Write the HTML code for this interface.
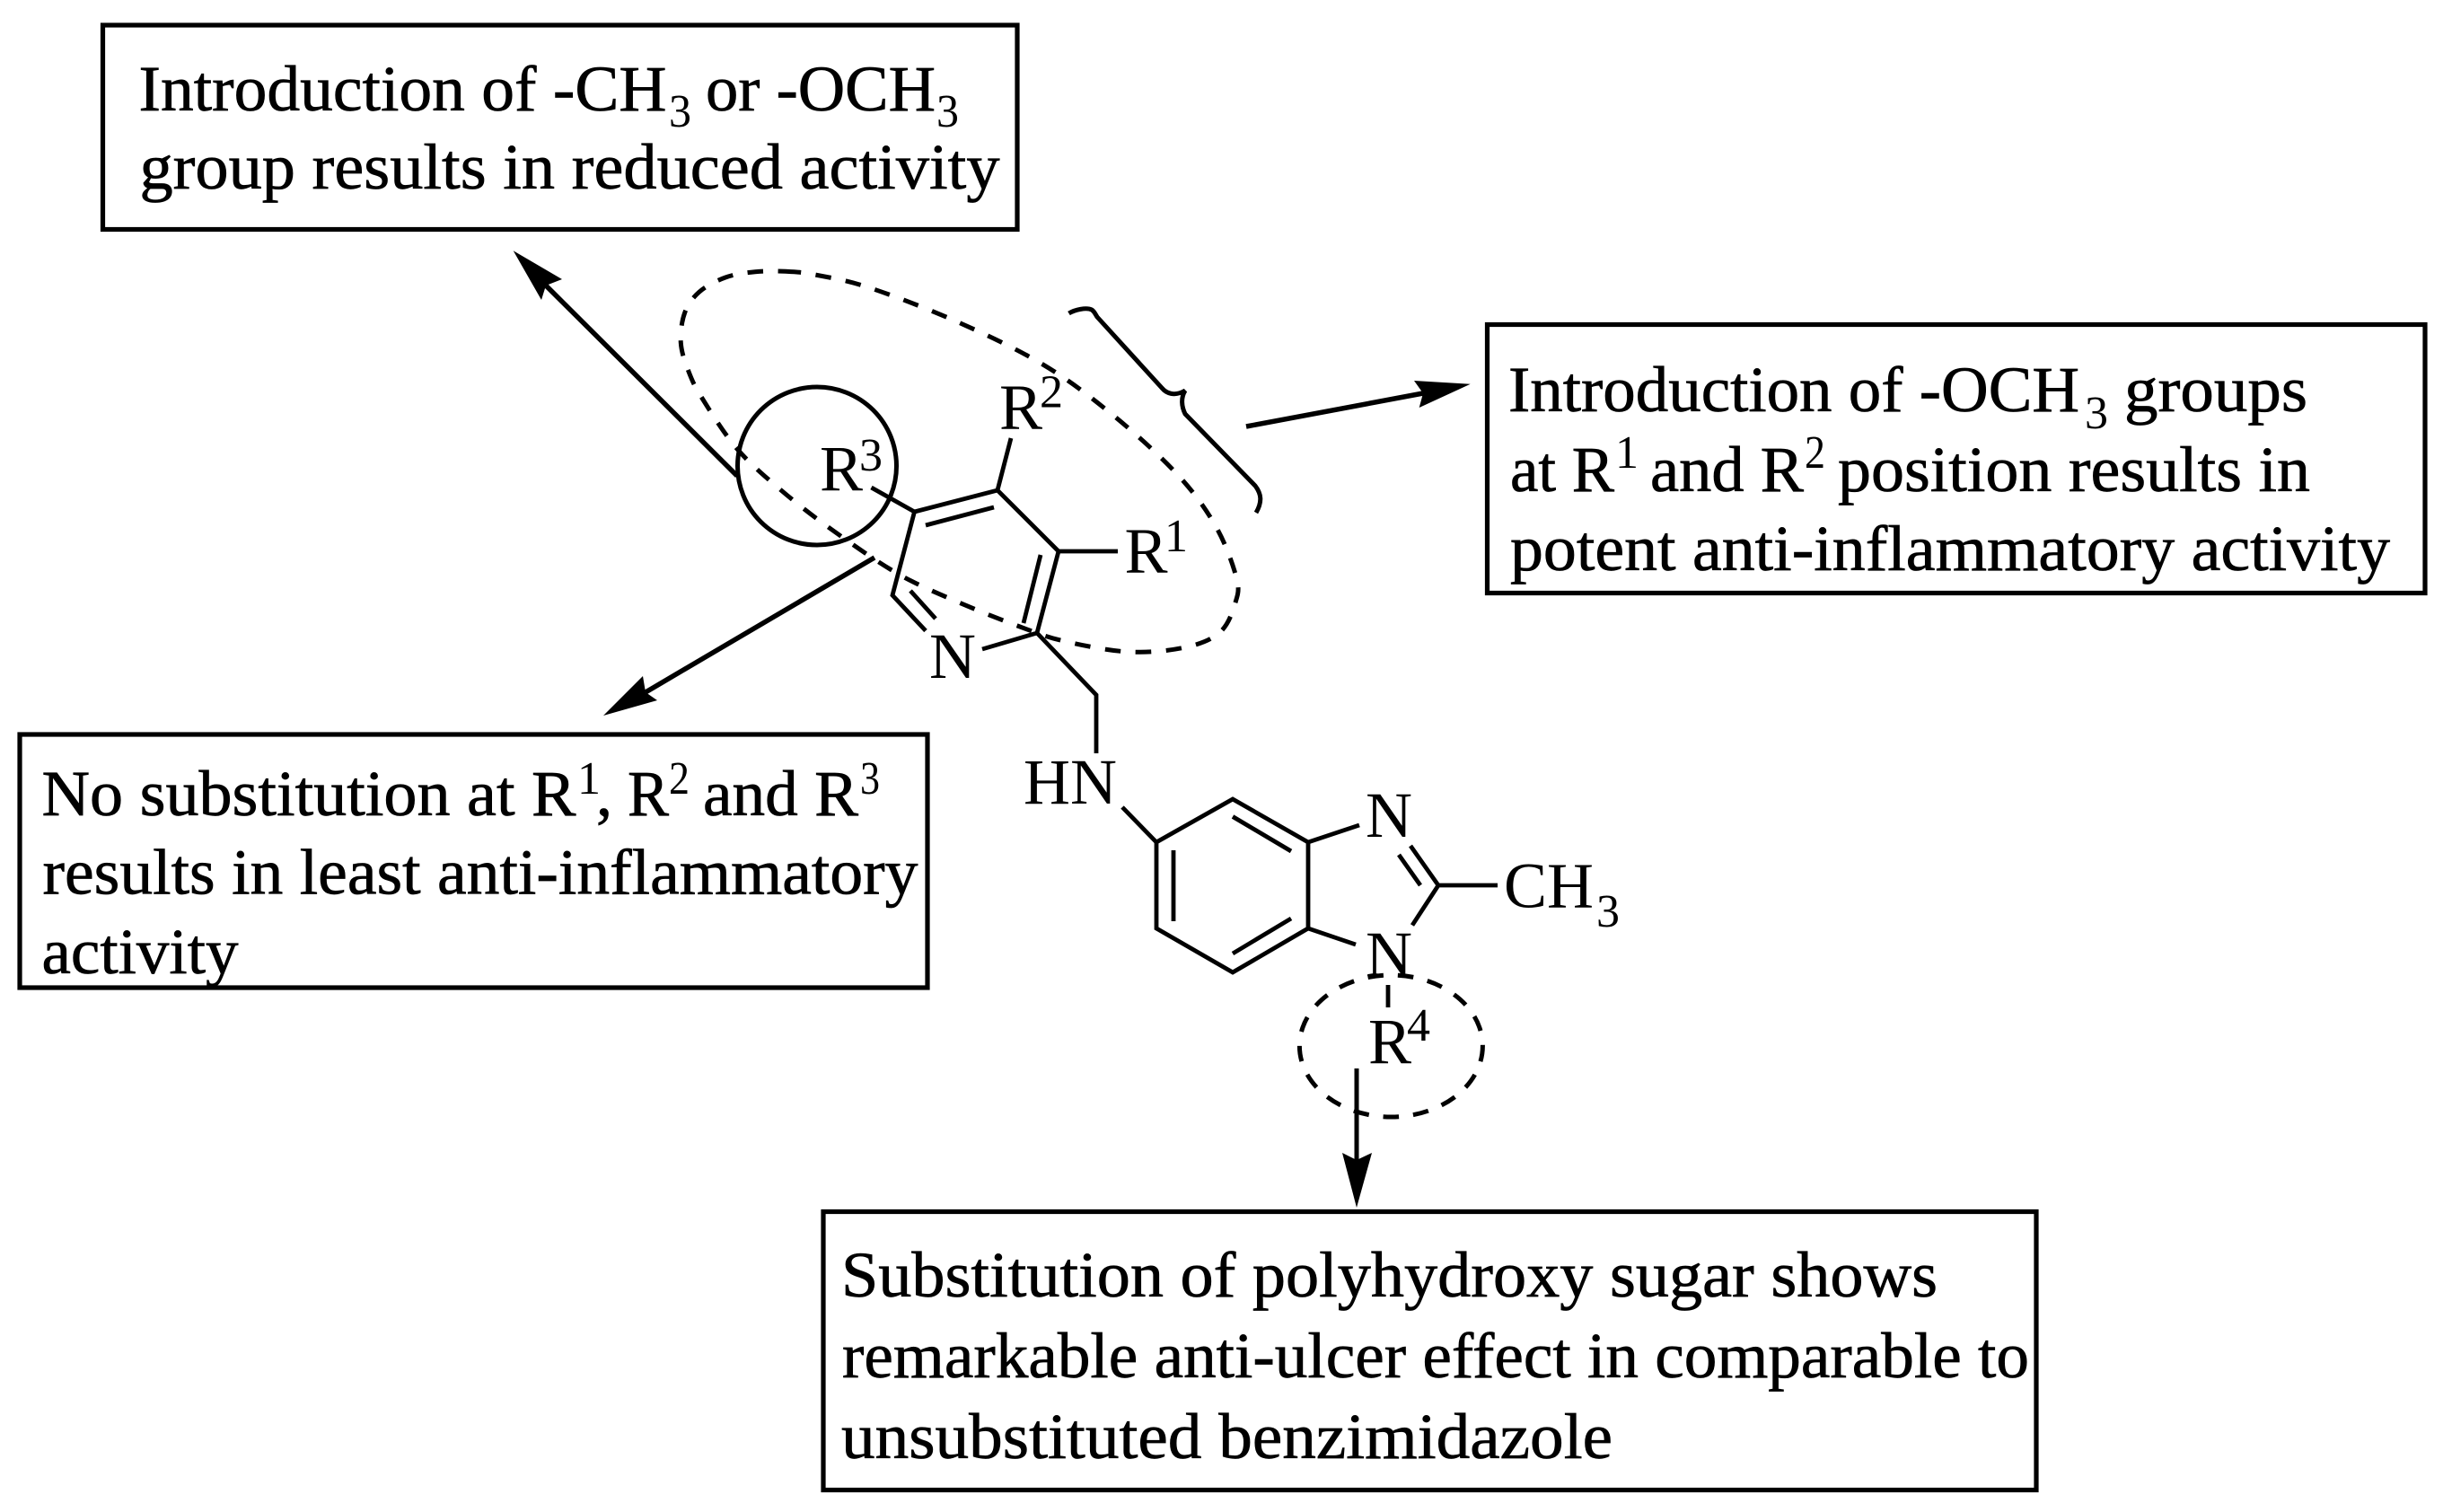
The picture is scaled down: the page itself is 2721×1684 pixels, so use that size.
<!DOCTYPE html>
<html lang="en"><head><meta charset="utf-8"><title>SAR diagram</title>
<style>
html,body{margin:0;padding:0;background:#fff}
svg{display:block}
text{font-family:"Liberation Serif",serif;fill:#000}
.t{font-size:72px;stroke:#000;stroke-width:.7px}
.s{font-size:52px}
.m{font-size:72px}
.d{font-size:52px}
</style></head><body>
<svg xmlns="http://www.w3.org/2000/svg" width="2721" height="1684" viewBox="0 0 2721 1684">
<rect width="2721" height="1684" fill="#fff"/>
<g fill="none" stroke="#000" stroke-width="5.2">
<rect x="114.5" y="28" width="1018.5" height="227.5"/>
<rect x="1656.5" y="361.5" width="1044.5" height="299"/>
<rect x="22" y="818" width="1011" height="282"/>
<rect x="917" y="1349.5" width="1351" height="310"/>
</g>
<g fill="none" stroke="#000" stroke-width="4.8" stroke-linecap="butt" stroke-linejoin="miter">
<path d="M970.5 543L1018.5 570L1111 546L1179 614L1155 705L1094 723"/>
<path d="M1018.5 570L994 663L1031 702.5"/>
<path d="M1031 585L1107 565M1159 618L1140 694M1014 658L1042 689"/>
<path d="M1126 488L1111 546M1179 614L1245 614"/>
<path d="M1155 705L1221 774L1221 839"/>
<path d="M1250 899L1288 938L1373 890L1457 938L1457 1034L1373 1083L1288 1034L1288 938"/>
<path d="M1373 909.5L1438 948M1307 947L1307 1026M1373 1062L1438 1023"/>
<path d="M1457 938L1514 919M1457 1034L1510 1052"/>
<path d="M1571 942L1602 986L1573 1030.5M1558 952L1582 986M1602 986L1668 986"/>
<path d="M1546 1097L1546 1122"/>
<path d="M1190.5 349C1197 345 1210 342 1216 345C1219 347 1220 350 1222 353L1294 432C1299 438 1308 442 1320 435C1315 443 1316 453 1320 461L1398 541C1405 550 1406 559 1399 571" stroke-width="5"/>
</g>
<ellipse cx="910" cy="519" rx="88.5" ry="88" fill="none" stroke="#000" stroke-width="5"/>
<path fill="none" stroke="#000" stroke-width="5" stroke-dasharray="17.5 16.5" stroke-dashoffset="9" d="M875 302.3C863.9 301.8 852.2 301.6 841 302.7C829.8 303.8 818.3 305.3 808 309C797.7 312.7 786.6 318.4 779 325C771.4 331.6 766.2 338.8 762.7 348.3C759.2 357.8 757.6 370.9 758.3 381.7C759 392.5 762.8 402.8 766.7 413C770.6 423.2 772.7 428.5 781.7 443C790.7 457.5 806.3 482.8 821 500C836 517.2 852.2 530.8 870 546C887.8 561.2 906.3 575.5 928 591C949.7 606.5 976.7 625.7 1000 639C1023.3 652.3 1045.3 661.2 1068 671C1090.7 680.8 1116.5 690.8 1136 698C1155.5 705.2 1164.8 709.3 1185 714C1205.2 718.7 1234.5 724.8 1257 726C1279.5 727.2 1303 724.7 1320 721C1337 717.3 1349.7 712.3 1359 704C1368.3 695.7 1373 681.2 1376 671C1379 660.8 1380.7 657.2 1377 643C1373.3 628.8 1365 605.2 1354 586C1343 566.8 1330.3 548.8 1311 528C1291.7 507.2 1263.2 481.5 1238 461C1212.8 440.5 1189.2 422.3 1160 405C1130.8 387.7 1095.2 371.2 1063 357C1030.8 342.8 993.5 328.7 967 320C941.1 311.5 923 309 907.7 306C892.4 303 886.1 302.85 875 302.3Z"/>
<ellipse cx="1549.4" cy="1165" rx="102" ry="79" fill="none" stroke="#000" stroke-width="5" stroke-dasharray="17.5 16"/>
<g fill="none" stroke="#000" stroke-width="5.5">
<path d="M821 530L608 318"/>
<path d="M974 621L719 771"/>
<path d="M1388 475L1585 438"/>
<path d="M1511 1190L1511 1292" stroke-width="5"/>
</g>
<g fill="#000" stroke="none">
<path d="M571.7 279.3L626 311L608 318L603 334Z"/>
<path d="M672 797L716 753L719 771L732 780Z"/>
<path d="M1637.7 427.7L1575 424L1585 438L1580.7 454Z"/>
<path d="M1511 1345L1495 1284L1511 1292L1528 1284Z"/>
</g>
<!-- molecule labels -->
<text class="m" x="1113" y="477.5">R</text><text class="d" x="1158" y="453.5">2</text>
<text class="m" x="913" y="546">R</text><text class="d" x="957" y="524">3</text>
<text class="m" x="1252.5" y="637.5">R</text><text class="d" x="1297" y="614">1</text>
<text class="m" x="1035" y="755">N</text>
<text class="m" x="1140" y="895">HN</text>
<text class="m" x="1521" y="932">N</text>
<text class="m" x="1521" y="1087">N</text>
<text class="m" x="1675" y="1010.5">CH</text><text class="d" x="1778" y="1032">3</text>
<text class="m" x="1524" y="1184">R</text><text class="d" x="1567" y="1159">4</text>
<!-- Box 1 -->
<text class="t" x="154.5" y="123" textLength="588" lengthAdjust="spacingAndGlyphs">Introduction of -CH</text>
<text class="s" x="745" y="141" textLength="25" lengthAdjust="spacingAndGlyphs">3</text>
<text class="t" x="786" y="123" textLength="256" lengthAdjust="spacingAndGlyphs">or -OCH</text>
<text class="s" x="1043" y="141" textLength="25" lengthAdjust="spacingAndGlyphs">3</text>
<text class="t" x="155.5" y="210" textLength="958" lengthAdjust="spacingAndGlyphs">group results in reduced activity</text>
<!-- Box 2 -->
<text class="t" x="1680" y="458" textLength="636" lengthAdjust="spacingAndGlyphs">Introduction of -OCH</text>
<text class="s" x="2322" y="477" textLength="26" lengthAdjust="spacingAndGlyphs">3</text>
<text class="t" x="2366" y="458" textLength="204" lengthAdjust="spacingAndGlyphs">groups</text>
<text class="t" x="1682" y="547" textLength="116" lengthAdjust="spacingAndGlyphs">at R</text>
<text class="s" x="1799" y="521">1</text>
<text class="t" x="1838" y="547" textLength="171" lengthAdjust="spacingAndGlyphs">and R</text>
<text class="s" x="2010" y="521" textLength="23" lengthAdjust="spacingAndGlyphs">2</text>
<text class="t" x="2047" y="547" textLength="526" lengthAdjust="spacingAndGlyphs">position results in</text>
<text class="t" x="1682" y="635" textLength="980" lengthAdjust="spacingAndGlyphs">potent anti-inflammatory activity</text>
<!-- Box 3 -->
<text class="t" x="46.5" y="908" textLength="595" lengthAdjust="spacingAndGlyphs">No substitution at R</text>
<text class="s" x="643" y="884">1</text>
<text class="t" x="664" y="908">,</text>
<text class="t" x="699" y="908" textLength="46" lengthAdjust="spacingAndGlyphs">R</text>
<text class="s" x="745" y="884" textLength="23" lengthAdjust="spacingAndGlyphs">2</text>
<text class="t" x="783" y="908" textLength="173" lengthAdjust="spacingAndGlyphs">and R</text>
<text class="s" x="958" y="884" textLength="22" lengthAdjust="spacingAndGlyphs">3</text>
<text class="t" x="47.5" y="995.5" textLength="975" lengthAdjust="spacingAndGlyphs">results in least anti-inflammatory</text>
<text class="t" x="46.5" y="1084" textLength="219" lengthAdjust="spacingAndGlyphs">activity</text>
<!-- Box 4 -->
<text class="t" x="937" y="1444" textLength="1221" lengthAdjust="spacingAndGlyphs">Substitution of polyhydroxy sugar shows</text>
<text class="t" x="938" y="1534" textLength="1322" lengthAdjust="spacingAndGlyphs">remarkable anti-ulcer effect in comparable to</text>
<text class="t" x="937" y="1624" textLength="859" lengthAdjust="spacingAndGlyphs">unsubstituted benzimidazole</text>
</svg>
</body></html>
